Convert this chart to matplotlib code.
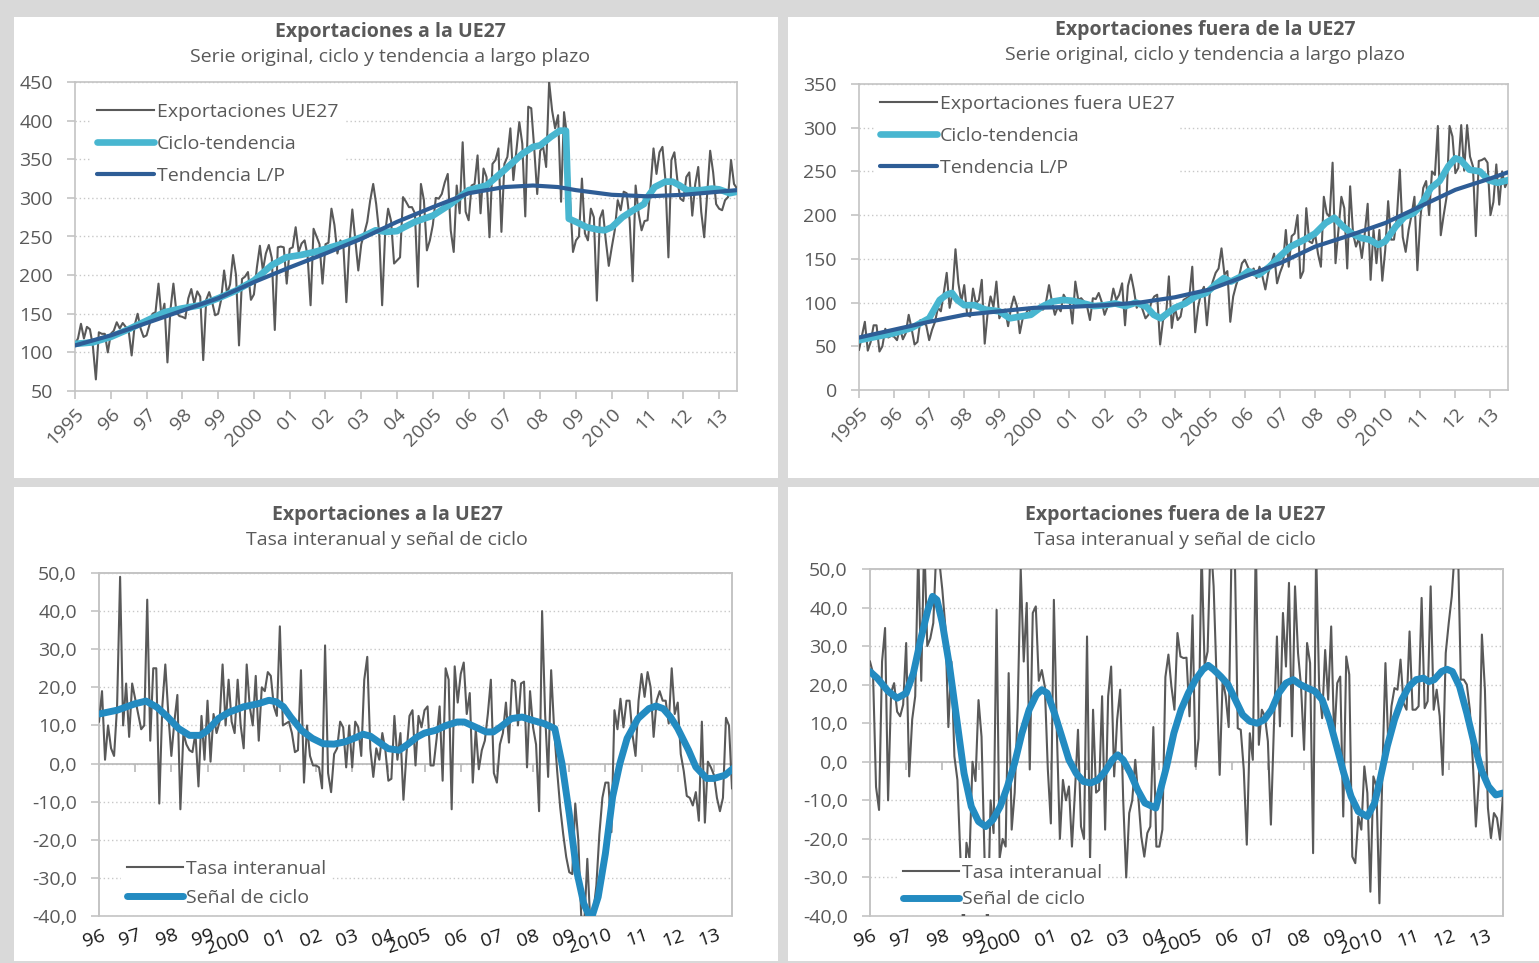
import numpy as np
import matplotlib.pyplot as plt
from matplotlib.patches import Rectangle

plt.rcParams['font.family'] = ['Open Sans', 'DejaVu Sans']

# ---- datos: exportaciones a la UE27 (mensual, ene-1995 .. jul-2013) ----
ue_serie = [
    111, 118, 137, 118, 133, 130, 108, 65, 126, 124, 124, 100,
    124, 128, 139, 131, 138, 133, 128, 96, 135, 150, 131, 120,
    122, 136, 150, 152, 189, 146, 163, 87, 155, 189, 152, 147,
    146, 144, 170, 182, 163, 179, 172, 90, 168, 178, 165, 148,
    150, 168, 206, 176, 188, 226, 200, 109, 195, 198, 204, 168,
    175, 210, 238, 206, 228, 239, 222, 129, 236, 237, 236, 189,
    234, 236, 262, 230, 241, 245, 225, 161, 260, 250, 240, 189,
    240, 242, 286, 265, 228, 245, 238, 165, 240, 285, 245, 206,
    240, 254, 269, 297, 318, 292, 255, 161, 254, 286, 270, 215,
    219, 223, 301, 295, 288, 288, 280, 185, 318, 297, 232, 245,
    265, 300, 299, 305, 320, 331, 258, 230, 316, 280, 372, 282,
    271, 316, 318, 355, 280, 338, 327, 249, 344, 349, 364, 256,
    344, 353, 390, 323, 361, 398, 370, 276, 418, 416, 364, 305,
    361, 366, 340, 450, 413, 390, 407, 295, 411, 380, 300, 230,
    245, 250, 325, 254, 245, 286, 275, 167, 273, 284, 245, 212,
    236, 258, 297, 284, 308, 306, 271, 192, 316, 280, 258, 270,
    271, 314, 364, 331, 359, 366, 323, 223, 349, 359, 323, 299,
    296, 327, 333, 277, 318, 340, 282, 249, 305, 361, 333, 292,
    286, 284, 297, 301, 349, 318, 312,
]
ue_ct_t = [1995.0, 1995.5, 1996.0, 1996.5, 1997.0, 1997.5, 1998.0, 1998.5, 1999.0, 1999.5,
           2000.0, 2000.5, 2000.9, 2001.3, 2001.7, 2002.0, 2002.5, 2003.0, 2003.4, 2003.7,
           2004.0, 2004.2, 2004.5, 2005.0, 2005.5, 2006.0, 2006.5, 2007.0, 2007.5, 2007.8,
           2008.0, 2008.3, 2008.55, 2008.72, 2008.8, 2009.0, 2009.3, 2009.6, 2009.8, 2010.0,
           2010.3, 2010.6, 2010.9, 2011.0, 2011.2, 2011.5, 2011.7, 2011.9, 2012.1, 2012.5,
           2012.8, 2013.0, 2013.3, 2013.5]
ue_ct_v = [111, 113, 120, 130, 141, 152, 157, 161, 170, 180,
           193, 213, 223, 226, 230, 234, 241, 249, 258, 256,
           257, 262, 269, 277, 292, 310, 316, 336, 357, 366,
           368, 379, 387, 387, 273, 269, 262, 259, 258, 262,
           275, 284, 292, 301, 314, 321, 321, 316, 310, 310,
           312, 311, 306, 308]
ue_lp_t = [1995, 1996, 1997, 1998, 1999, 2000, 2001, 2002, 2003, 2004, 2005, 2006,
           2007, 2007.8, 2008.5, 2009, 2010, 2011, 2012, 2013, 2013.5]
ue_lp_v = [109, 122, 138, 154, 170, 191, 210, 228, 247, 269, 288, 306,
           314, 316, 314, 310, 304, 302, 304, 308, 310]

# ---- datos: exportaciones fuera de la UE27 ----
nue_serie = [
    46, 62, 78, 45, 55, 74, 74, 44, 50, 70, 60, 62,
    61, 57, 71, 58, 65, 86, 70, 52, 55, 80, 77, 74,
    57, 69, 78, 94, 90, 111, 134, 94, 111, 161, 122, 101,
    120, 86, 84, 116, 99, 103, 126, 53, 88, 107, 95, 124,
    82, 90, 92, 73, 94, 107, 96, 65, 82, 86, 94, 85,
    94, 90, 92, 92, 101, 120, 101, 86, 95, 90, 109, 103,
    103, 76, 124, 103, 105, 101, 96, 80, 105, 104, 111, 101,
    86, 95, 97, 116, 103, 109, 122, 74, 119, 132, 115, 94,
    101, 92, 82, 86, 101, 107, 109, 52, 80, 84, 130, 71,
    95, 80, 84, 103, 105, 107, 141, 66, 95, 111, 118, 74,
    111, 124, 134, 139, 162, 132, 136, 78, 107, 120, 130, 145,
    149, 141, 134, 139, 128, 141, 130, 115, 134, 145, 156, 122,
    134, 143, 183, 141, 176, 179, 200, 128, 136, 208, 170, 168,
    179, 156, 141, 221, 202, 198, 260, 145, 183, 221, 208, 139,
    233, 179, 164, 174, 151, 179, 213, 126, 183, 145, 183, 125,
    160, 216, 172, 172, 198, 252, 175, 158, 183, 200, 221, 137,
    195, 231, 239, 200, 250, 246, 302, 177, 200, 221, 302, 290,
    248, 254, 303, 251, 303, 267, 256, 176, 262, 263, 265, 260,
    200, 215, 258, 212, 250, 232, 240,
]
nue_ct_t = [1995.0, 1995.5, 1996.0, 1996.5, 1997.0, 1997.3, 1997.5, 1997.65, 1997.8, 1998.0,
            1998.3, 1998.6, 1999.0, 1999.3, 1999.6, 1999.9, 2000.2, 2000.5, 2000.8, 2001.1,
            2001.4, 2001.7, 2002.0, 2002.3, 2002.6, 2002.9, 2003.2, 2003.4, 2003.6, 2003.8,
            2004.0, 2004.3, 2004.6, 2004.9, 2005.2, 2005.4, 2005.6, 2005.9, 2006.1, 2006.4,
            2006.7, 2007.0, 2007.3, 2007.7, 2008.0, 2008.3, 2008.55, 2008.8, 2009.05, 2009.3,
            2009.55, 2009.8, 2010.0, 2010.3, 2010.55, 2010.8, 2011.0, 2011.3, 2011.55, 2011.8,
            2012.0, 2012.15, 2012.4, 2012.7, 2012.95, 2013.2, 2013.5]
nue_ct_v = [57, 61, 65, 71, 82, 103, 109, 111, 103, 97,
            97, 92, 90, 82, 84, 86, 95, 101, 103, 102,
            99, 96, 97, 99, 96, 100, 95, 86, 82, 88,
            94, 99, 107, 111, 122, 128, 124, 130, 136, 132,
            141, 153, 164, 172, 179, 191, 197, 187, 179, 174,
            172, 166, 170, 187, 198, 202, 210, 231, 239, 256,
            265, 263, 252, 250, 240, 237, 240]
nue_lp_t = [1995, 1996, 1997, 1998, 1999, 2000, 2001, 2002, 2003, 2004, 2005, 2006,
            2007, 2008, 2009, 2010, 2011, 2012, 2013, 2013.5]
nue_lp_v = [60, 69, 78, 86, 90, 94, 95, 97, 100, 106, 115, 130,
            145, 164, 177, 191, 210, 229, 242, 249]

# ---- tasas interanuales (ene-1996 .. jul-2013) ----
ue_tasa = [
    11, 19, 1, 10, 4, 2, 15, 49, 10, 21, 7, 21,
    17, 13, 9, 10, 43, 6, 25, 25, -10.5, 15, 26, 13,
    2, 11, 18, -12, 8, 5, 3.5, 3, 8, -6, 12.5, 1,
    16.5, 0.5, 13, 8, 11, 26, 10, 22, 11, 8, 22, 10,
    4, 26, 15, 10, 23, 6, 20, 19, 24, 23, 15, 12.5,
    36, 10, 10.5, 11, 8, 3, 3.5, 24.5, -5, 10, 2, -0.5,
    -0.5, -1, -6.5, 31, -2.5, -7.5, 2.5, 4, 11, 9.5, -1, 10,
    -1, 11, 9.5, 2, 22, 28, 4, -3.5, 4, 1, 8, 3.5,
    -4.5, -4, 12.5, 1, 8, -9.5, 2.5, 12.5, 14, -0.5, 12.5, 9.5,
    14, 15, -0.5, -0.5, 6.5, 15, -4.5, 25, 22, -12, 25.5, 16,
    23.5, 26.5, 13, 18.5, -5, 9, -1.5, 3.5, 6, 13, 22, -2.5,
    -5, 5, 8, 16, 5.5, 22, 21.5, 10, 21, 21.5, -1, 19,
    9.5, 5, -12.5, 40, 13, -3.5, 24.5, 9, -2, -11.5, -18.5, -24.5,
    -28.5, -29, -10.5, -20, -40.5, -42, -25, -42, -39, -32, -18.5, -9,
    -5, -5, -18, 14, 9, 17, 9.5, 16.5, 16.5, 7.5, 2, 16.5,
    23.5, 17.5, 24, 20, 7, 16.5, 19, 16.5, 16.5, 10.5, 25, 13,
    16, 2.5, -2, -8.5, -9, -11, -7.5, -15, 11, -15.5, 0.5, -1,
    -3, -9, -12.5, -9, 12, 10, -6.5,
]
ue_ciclo_t = [1996.0, 1996.5, 1997.0, 1997.3, 1997.6, 1997.9, 1998.2, 1998.5, 1998.8, 1999.0,
              1999.3, 1999.6, 2000.0, 2000.4, 2000.7, 2000.9, 2001.1, 2001.3, 2001.6, 2001.9,
              2002.2, 2002.5, 2002.8, 2003.1, 2003.3, 2003.5, 2003.8, 2004.0, 2004.3, 2004.5,
              2004.8, 2005.0, 2005.3, 2005.6, 2005.9, 2006.1, 2006.4, 2006.7, 2006.9, 2007.1,
              2007.4, 2007.7, 2008.0, 2008.3, 2008.6, 2008.8, 2009.0, 2009.2, 2009.4, 2009.6,
              2009.8, 2010.0, 2010.2, 2010.4, 2010.6, 2010.9, 2011.2, 2011.4, 2011.6, 2011.8,
              2012.0, 2012.3, 2012.5, 2012.8, 2013.0, 2013.3, 2013.58]
ue_ciclo_v = [13, 14, 15.7, 16.4, 14.8, 12.2, 9.2, 7.4, 7.4, 8.7,
              11.8, 13.5, 14.9, 15.7, 16.6, 16.2, 14.9, 12.2, 8.7, 6.6,
              5.2, 5.1, 5.7, 6.8, 7.7, 7.2, 5.2, 3.9, 3.5, 4.8,
              7, 8, 8.7, 10, 10.9, 10.9, 9.6, 8.3, 8.3, 9.6,
              11.8, 12.2, 11.3, 10.5, 9.2, 0, -13.1, -28, -36.7, -41,
              -35, -23.6, -8.7, 0, 6.6, 11.8, 14.4, 15.1, 14.4, 12.2,
              9.2, 3.5, -0.9, -3.9, -3.9, -3.1, -0.9]

nue_tasa = [
    26, 23, -6.5, -12.5, 26, 34.7, -10, 18, 20.4, 13, 11.8, 14.8,
    30.8, -3.8, 11, 17, 55, 21, 58, 30, 32, 36, 55, 52,
    44.6, 35, 9, 26, 1.4, -4.7, -25, -45, -21, -25, 0, -5,
    16, 6.5, -25, -45, -10, -18.5, 39.4, -25, -20, -22, 23, -17.6,
    -8, 14, 50, 26, 41.2, -2, 38.6, 40.3, 21, 23.8, 19.5, -2,
    -16, 42, 7.4, -20, -4.7, -10, -6.4, -22, -7.7, 8.3, -16.8, -20,
    32.5, -25.4, 13.5, -8, -7.3, 17, -17.6, 17, 24.7, -3.8, 11, 18.7,
    -10, -30, -13.3, -10, 0.5, -9, -19.4, -24.6, -18.5, -16.8, 9, -22,
    -22, -17.6, 22, 27.8, 19.5, 13.5, 33.4, 27.3, 26.9, 27, 11.8, 38,
    -1.2, 6, 55, 25, 28.6, 58, 45.5, 21.3, -3.4, 21.3, 17, 9,
    58, 55, 8.7, 8.3, -2, -21.5, 7.4, 0.5, 58, 4.4, 13.5, 11.8,
    5.3, -16.3, 9.2, 32.5, 9.2, 38.6, 24.7, 46.4, 6.6, 45.5, 28.2, 19.5,
    3.1, 30.8, 25.6, -23.7, 55, 19.5, 11.3, 29, 16.1, 35.1, 5.7, 20.4,
    22.1, -14.2, 27.3, 22.6, -24.6, -26.3, -14.2, -17.6, -1.2, -8.1, -33.7, -3.8,
    -6.4, -36.7, -2, 25.6, 3.1, 14.4, 19.1, 18.7, 26.5, 15.2, 13.5, 33.8,
    13.5, 13.5, 14.4, 42.5, 13.9, 15.7, 45.5, 13.5, 18.7, 11.8, -3.4, 28.2,
    36, 42.9, 55, 58, 21.3, 21.3, 20, 13.5, -0.3, -16.8, -4.7, 33,
    18.7, -12, -19.8, -13.3, -14.6, -20.2, -8.1,
]
nue_ciclo_t = [1996.0, 1996.2, 1996.5, 1996.75, 1997.0, 1997.2, 1997.4, 1997.6, 1997.73, 1997.85,
               1998.0, 1998.2, 1998.4, 1998.6, 1998.8, 1999.0, 1999.2, 1999.4, 1999.6, 1999.8,
               2000.0, 2000.2, 2000.4, 2000.6, 2000.75, 2000.9, 2001.1, 2001.3, 2001.5, 2001.7,
               2001.9, 2002.1, 2002.3, 2002.5, 2002.7, 2002.85, 2003.0, 2003.2, 2003.4, 2003.6,
               2003.9, 2004.2, 2004.4, 2004.6, 2004.8, 2005.0, 2005.2, 2005.35, 2005.5, 2005.7,
               2005.9, 2006.1, 2006.3, 2006.5, 2006.7, 2006.9, 2007.1, 2007.3, 2007.5, 2007.7,
               2007.9, 2008.1, 2008.3, 2008.5, 2008.7, 2008.9, 2009.1, 2009.3, 2009.5, 2009.75,
               2009.95, 2010.1, 2010.3, 2010.5, 2010.7, 2010.9, 2011.1, 2011.3, 2011.45, 2011.6,
               2011.8, 2011.95, 2012.1, 2012.3, 2012.5, 2012.7, 2012.9, 2013.1, 2013.3, 2013.5]
nue_ciclo_v = [23.4, 21.7, 18.3, 16.5, 17.8, 23, 31.7, 39.4, 42.9, 42,
               36, 24.7, 10.9, -3, -11.6, -15.5, -16.8, -15, -11.6, -6.4,
               -0.3, 7.4, 13.5, 17.4, 18.7, 17.8, 12.6, 6.6, 0.5, -3,
               -5.1, -5.5, -4.7, -2.5, 0.5, 1.8, 0.5, -3, -7.3, -10.7,
               -12, -1.2, 7.4, 13.5, 17.8, 21.3, 23.9, 25, 23.9, 22.1,
               20, 16.1, 12.2, 10.5, 10, 10.9, 13.5, 17.8, 20.4, 21.3,
               20, 19.1, 18.3, 16.1, 10.9, 4, -3, -9, -12.9, -14.2,
               -10.7, -4.7, 4, 10.9, 16.1, 19.5, 21.3, 21.7, 20.8, 21.3,
               23.4, 24, 23.4, 19.5, 12.6, 4.8, -2.1, -6.4, -8.6, -8.1]

etiquetas_top = ['1995', '96', '97', '98', '99', '2000', '01', '02', '03', '04', '2005',
                 '06', '07', '08', '09', '2010', '11', '12', '13']
etiquetas_bot = etiquetas_top[1:]

GRIS = '#595959'
CIAN = '#48b6d0'
AZUL_OSC = '#2e5d96'
AZUL = '#238bc1'
MARCO = '#c4c4c4'

W, H = 1539, 963
fig = plt.figure(figsize=(W / 100, H / 100), dpi=100, facecolor='#d9d9d9')


def px_axes(x0, y0, x1, y1):
    return fig.add_axes([x0 / W, 1 - y1 / H, (x1 - x0) / W, (y1 - y0) / H])


# paneles blancos
for (x0, y0, x1, y1) in [(14, 17, 778, 478), (788, 17, 1539, 478),
                         (14, 487, 778, 961), (788, 487, 1539, 961)]:
    fig.patches.append(Rectangle((x0 / W, 1 - y1 / H), (x1 - x0) / W, (y1 - y0) / H,
                                 transform=fig.transFigure, facecolor='white',
                                 edgecolor='none', zorder=-5))


def estilo(ax):
    for s in ax.spines.values():
        s.set_color(MARCO)
        s.set_linewidth(1.2)
    ax.yaxis.grid(True, linestyle=(0, (1, 2)), color='#c8c8c8', linewidth=1)
    ax.set_axisbelow(True)
    ax.tick_params(axis='y', colors=MARCO, labelcolor=GRIS, labelsize=14,
                   length=6, width=1.2, pad=10)


def leyenda(ax, anchor, loc, spacing):
    lg = ax.legend(loc=loc, bbox_to_anchor=anchor, frameon=True, fontsize=14,
                   handlelength=2.9, handletextpad=0.15, labelspacing=spacing,
                   borderpad=0.3, borderaxespad=0)
    lg.get_frame().set_facecolor('white')
    lg.get_frame().set_edgecolor('none')
    lg.get_frame().set_alpha(1)
    for t in lg.get_texts():
        t.set_color(GRIS)
    lg.set_zorder(10)


def panel_superior(ax, serie, ct_t, ct_v, lp_t, lp_v, nombre, ylim, paso, anchor):
    n = len(serie)
    x = np.arange(n)
    ax.plot(x, serie, color=GRIS, lw=1.5, label=nombre, zorder=3)
    ax.plot((np.array(ct_t) - 1995) * 12, ct_v, color=CIAN, lw=4.8,
            solid_capstyle='round', label='Ciclo-tendencia', zorder=4)
    ax.plot((np.array(lp_t) - 1995) * 12, lp_v, color=AZUL_OSC, lw=3.0,
            solid_capstyle='round', label='Tendencia L/P', zorder=5)
    ax.set_xlim(0, n - 1)
    ax.set_ylim(*ylim)
    ax.set_yticks(np.arange(ylim[0], ylim[1] + 1, paso))
    ax.set_xticks(np.arange(0, n, 12))
    ax.set_xticklabels(etiquetas_top, rotation=45, ha='right', va='top',
                       rotation_mode='anchor')
    estilo(ax)
    ax.tick_params(axis='x', colors=MARCO, labelcolor=GRIS, labelsize=14,
                   length=6, width=1.2, pad=4)
    leyenda(ax, anchor, 'upper left', 0.72)


def panel_inferior(ax, tasa, ciclo_t, ciclo_v, anchor, spacing):
    n = len(tasa)
    x = np.arange(n)
    ax.plot(x, tasa, color=GRIS, lw=1.5, label='Tasa interanual', zorder=3)
    ax.plot((np.array(ciclo_t) - 1996) * 12, ciclo_v, color=AZUL, lw=5,
            solid_capstyle='round', label='Señal de ciclo', zorder=4)
    ax.set_xlim(0, n - 1)
    ax.set_ylim(-40, 50)
    yt = np.arange(-40, 51, 10)
    ax.set_yticks(yt)
    ax.set_yticklabels([f'{v:.1f}'.replace('.', ',') for v in yt])
    estilo(ax)
    ax.spines['bottom'].set_position(('data', 0))
    ax.spines['bottom'].set_color('#b8b8b8')
    ax.spines['bottom'].set_zorder(2)
    ax.add_patch(Rectangle((0, 0), 1, 1, transform=ax.transAxes, fill=False,
                           edgecolor=MARCO, lw=1.2, zorder=1, clip_on=False))
    ticks = np.arange(0, n, 12)
    ax.set_xticks(ticks)
    ax.tick_params(axis='x', colors='#b8b8b8', labelbottom=False, length=6, width=1.2)
    trans = ax.get_xaxis_transform()
    for xt, lab in zip(ticks, etiquetas_bot):
        ax.text(xt + 1, -0.03, lab, transform=trans, ha='right', va='top',
                rotation=18, rotation_mode='anchor', fontsize=14, color='#1a1a1a')
    leyenda(ax, anchor, 'lower left', spacing)


ax1 = px_axes(75, 82, 737, 391)
panel_superior(ax1, ue_serie, ue_ct_t, ue_ct_v, ue_lp_t, ue_lp_v,
               'Exportaciones UE27', (50, 450), 50, (0.025, 0.95))
ax2 = px_axes(859, 84, 1508, 390)
panel_superior(ax2, nue_serie, nue_ct_t, nue_ct_v, nue_lp_t, nue_lp_v,
               'Exportaciones fuera UE27', (0, 350), 50, (0.024, 0.984))
ax3 = px_axes(99, 573, 732, 916)
panel_inferior(ax3, ue_tasa, ue_ciclo_t, ue_ciclo_v, (0.035, 0.01), 0.55)
ax4 = px_axes(870, 569, 1503, 916)
panel_inferior(ax4, nue_tasa, nue_ciclo_t, nue_ciclo_v, (0.043, 0.005), 0.45)

# titulos
titulos = [
    (390, 32, 57, 'Exportaciones a la UE27', 'Serie original, ciclo y tendencia a largo plazo'),
    (1205, 30, 55, 'Exportaciones fuera de la UE27', 'Serie original, ciclo y tendencia a largo plazo'),
    (387, 515, 540, 'Exportaciones a la UE27', 'Tasa interanual y señal de ciclo'),
    (1175, 515, 540, 'Exportaciones fuera de la UE27', 'Tasa interanual y señal de ciclo'),
]
for xc, y1, y2, t1, t2 in titulos:
    fig.text(xc / W, 1 - y1 / H, t1, ha='center', va='center', fontsize=14,
             fontweight='bold', color=GRIS)
    fig.text(xc / W, 1 - y2 / H, t2, ha='center', va='center', fontsize=14, color=GRIS)

fig.savefig('out.png', dpi=100, facecolor=fig.get_facecolor())
